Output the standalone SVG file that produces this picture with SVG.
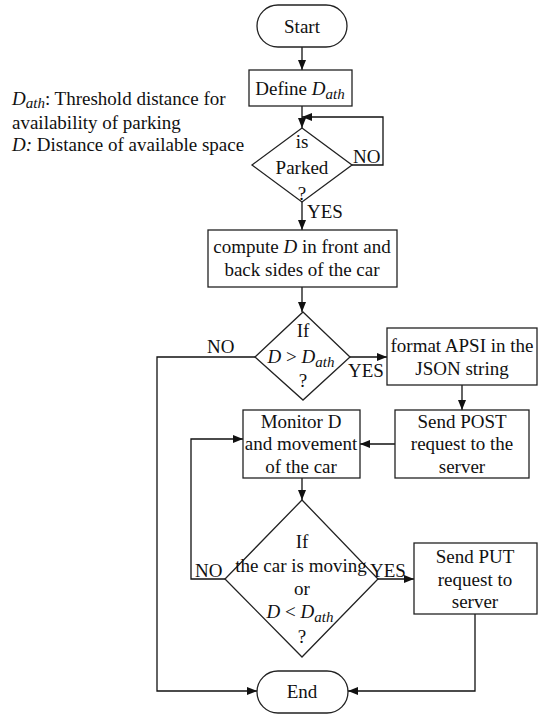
<svg xmlns="http://www.w3.org/2000/svg" width="543" height="716" viewBox="0 0 543 716">
  <style>
    text { font-family: "Liberation Serif", "Times New Roman", serif; font-size: 19px; fill: #111; }
    .c { text-anchor: middle; }
    .i { font-style: italic; }
    .sub { font-style: italic; font-size: 15px; }
    .shape { fill: #fff; stroke: #222; stroke-width: 1.3; }
    .wire { fill: none; stroke: #111; stroke-width: 1.3; }
  </style>
  <defs>
    <marker id="arrow" viewBox="0 0 10 8" refX="10" refY="4" markerWidth="10" markerHeight="8" markerUnits="userSpaceOnUse" orient="auto">
      <path d="M0,0 L10,4 L0,8 Z" fill="#111"/>
    </marker>
  </defs>

  <rect width="543" height="716" fill="#fff"/>

  <!-- legend -->
  <g id="legend">
    <text x="12" y="105"><tspan class="i">D</tspan><tspan class="sub" dy="3">ath</tspan><tspan dy="-3">: Threshold distance for</tspan></text>
    <text x="12" y="129">availability of parking</text>
    <text x="12" y="151"><tspan class="i">D:</tspan> Distance of available space</text>
  </g>

  <!-- connectors -->
  <g id="connectors">
    <line class="wire" x1="302" y1="47" x2="302" y2="70" marker-end="url(#arrow)"/>
    <line class="wire" x1="302" y1="106" x2="302" y2="128" marker-end="url(#arrow)"/>
    <polyline class="wire" points="352,165 383,165 383,117 302,117" marker-end="url(#arrow)"/>
    <line class="wire" x1="302" y1="202" x2="302" y2="230" marker-end="url(#arrow)"/>
    <line class="wire" x1="302" y1="287" x2="302" y2="312" marker-end="url(#arrow)"/>
    <line class="wire" x1="350" y1="357" x2="387" y2="357" marker-end="url(#arrow)"/>
    <polyline class="wire" points="255,357 157,357 157,691 257,691" marker-end="url(#arrow)"/>
    <line class="wire" x1="462" y1="385" x2="462" y2="410" marker-end="url(#arrow)"/>
    <line class="wire" x1="395" y1="444" x2="360" y2="444" marker-end="url(#arrow)"/>
    <line class="wire" x1="302" y1="478" x2="302" y2="500" marker-end="url(#arrow)"/>
    <polyline class="wire" points="225,579 191,579 191,439 243,439" marker-end="url(#arrow)"/>
    <line class="wire" x1="378" y1="579" x2="414" y2="579" marker-end="url(#arrow)"/>
    <polyline class="wire" points="475,614 475,691 348,691" marker-end="url(#arrow)"/>
    <text x="353" y="163">NO</text>
    <text x="307" y="218">YES</text>
    <text x="207" y="353">NO</text>
    <text x="348" y="377">YES</text>
    <text x="195" y="577">NO</text>
    <text x="370" y="577">YES</text>
  </g>

  <g id="start">
    <rect class="shape" x="257" y="5" width="90" height="42" rx="21" ry="21"/>
    <text class="c" x="302" y="33">Start</text>
  </g>

  <g id="define">
    <rect class="shape" x="249" y="70" width="103" height="36"/>
    <text class="c" x="300" y="95">Define <tspan class="i">D</tspan><tspan class="sub" dy="4">ath</tspan></text>
  </g>

  <g id="is-parked">
    <polygon class="shape" points="302,128 352,165 302,202 252,165"/>
    <text class="c" x="302" y="148">is</text>
    <text class="c" x="302" y="174">Parked</text>
    <text class="c" x="302" y="200">?</text>
  </g>

  <g id="compute">
    <rect class="shape" x="208" y="230" width="189" height="57"/>
    <text class="c" x="302" y="253">compute <tspan class="i">D</tspan> in front and</text>
    <text class="c" x="302" y="276">back sides of the car</text>
  </g>

  <g id="check-distance">
    <polygon class="shape" points="303,312 350,357 303,400 255,357"/>
    <text class="c" x="303" y="337">If</text>
    <text class="c" x="301" y="363"><tspan class="i">D</tspan> &gt; <tspan class="i">D</tspan><tspan class="sub" dy="4">ath</tspan></text>
    <text class="c" x="303" y="387">?</text>
  </g>

  <g id="format">
    <rect class="shape" x="387" y="328" width="150" height="57"/>
    <text class="c" x="462" y="352">format APSI in the</text>
    <text class="c" x="462" y="375">JSON string</text>
  </g>

  <g id="send-post">
    <rect class="shape" x="395" y="410" width="134" height="68"/>
    <text class="c" x="462" y="428">Send POST</text>
    <text class="c" x="462" y="450">request to the</text>
    <text class="c" x="462" y="473">server</text>
  </g>

  <g id="monitor">
    <rect class="shape" x="243" y="410" width="117" height="68"/>
    <text class="c" x="301" y="428">Monitor D</text>
    <text class="c" x="301" y="450">and movement</text>
    <text class="c" x="301" y="473">of the car</text>
  </g>

  <g id="check-moving">
    <polygon class="shape" points="302,500 378,579 302,657 225,579"/>
    <text class="c" x="302" y="548">If</text>
    <text class="c" x="301" y="572">the car is moving</text>
    <text class="c" x="302" y="595">or</text>
    <text class="c" x="300" y="618"><tspan class="i">D</tspan> &lt; <tspan class="i">D</tspan><tspan class="sub" dy="4">ath</tspan></text>
    <text class="c" x="302" y="643">?</text>
  </g>

  <g id="send-put">
    <rect class="shape" x="414" y="543" width="123" height="71"/>
    <text class="c" x="475" y="563">Send PUT</text>
    <text class="c" x="475" y="586">request to</text>
    <text class="c" x="475" y="608">server</text>
  </g>

  <g id="end">
    <rect class="shape" x="257" y="671" width="91" height="42" rx="21" ry="21"/>
    <text class="c" x="302" y="698">End</text>
  </g>
</svg>
